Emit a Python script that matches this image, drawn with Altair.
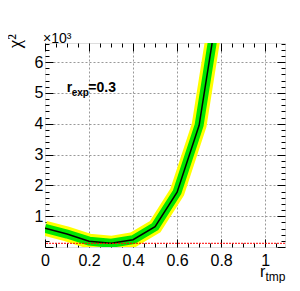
import altair as alt
import pandas as pd

# data
r_tmp = [0.0, 0.1, 0.2, 0.3, 0.4, 0.5, 0.6, 0.7, 0.8]
chi2 = [607, 420, 190, 120, 235, 660, 1780, 3950, 8475]
chi2_ref = [120]

y_ticks = list(range(0, 6601, 200))
x_ticks = [round(i * 0.05, 2) for i in range(0, 22)]

df = pd.DataFrame({"r": r_tmp, "chi2": chi2})
ref = pd.DataFrame({"v": chi2_ref})

FONT = "Liberation Sans"
X_DOM = [0, 1.09]
Y_DOM = [0, 6620]

x_major = "abs(datum.value*5 - round(datum.value*5)) < 1e-6"
y_major = "datum.value % 1000 === 0"

xs = alt.Scale(domain=X_DOM, nice=False, zero=False)
ys = alt.Scale(domain=Y_DOM, nice=False, zero=False)

x_bottom = alt.Axis(
    orient="bottom", values=x_ticks, title=None, domain=False,
    tickSize=alt.ExprRef(expr=f"{x_major} ? -8 : -4"), tickColor="black",
    labelExpr=f"{x_major} ? format(datum.value, '~g') : ''",
    labelPadding=13, labelFlush=False, labelFontSize=16, labelFont=FONT,
    labelColor="black", grid=True,
    gridOpacity=alt.ExprRef(expr=f"{x_major} && datum.value > 0 ? 1 : 0"),
    gridDash=[2, 2], gridColor="#999999", gridWidth=1,
)
x_top = alt.Axis(
    orient="top", values=x_ticks, title=None, domain=False, labels=False,
    tickSize=alt.ExprRef(expr=f"{x_major} ? -8 : -4"), tickColor="black",
    grid=False,
)
y_left = alt.Axis(
    orient="left", values=y_ticks, title=None, domain=False,
    tickSize=alt.ExprRef(expr=f"{y_major} ? -8 : -4"), tickColor="black",
    labelExpr=f"{y_major} && datum.value > 0 ? format(datum.value/1000, 'd') : ''",
    labelPadding=10, labelFontSize=16, labelFont=FONT, labelColor="black",
    labelBaseline="middle",
    grid=True,
    gridOpacity=alt.ExprRef(expr=f"{y_major} && datum.value > 0 ? 1 : 0"),
    gridDash=[2, 2], gridColor="#999999", gridWidth=1,
)
y_right = alt.Axis(
    orient="right", values=y_ticks, title=None, domain=False, labels=False,
    tickSize=alt.ExprRef(expr=f"{y_major} ? -8 : -4"), tickColor="black",
    grid=False,
)

base = alt.Chart(df)

yellow = base.mark_line(clip=True, color="#ffff00", strokeWidth=15).encode(
    x=alt.X("r:Q", scale=xs, axis=None),
    y=alt.Y("chi2:Q", scale=ys, axis=None),
)
green = base.mark_line(clip=True, color="#00e600", strokeWidth=9).encode(
    x=alt.X("r:Q", scale=xs, axis=x_top),
    y=alt.Y("chi2:Q", scale=ys, axis=None),
)
black = base.mark_line(clip=True, color="black", strokeWidth=1.5).encode(
    x=alt.X("r:Q", scale=xs, axis=x_bottom),
    y=alt.Y("chi2:Q", scale=ys, axis=y_left),
)
red = alt.Chart(ref).mark_rule(color="red", strokeDash=[2, 1], strokeWidth=1).encode(
    y=alt.Y("v:Q", scale=ys, axis=y_right),
)

one = pd.DataFrame({"a": [0]})


def txt(s, x, y, size, bold=False, angle=0, align="left", baseline="alphabetic", font=FONT):
    return alt.Chart(one).mark_text(
        text=s, font=font, fontSize=size, fontWeight="bold" if bold else "normal",
        angle=angle, align=align, baseline=baseline, color="black",
    ).encode(x=alt.value(x), y=alt.value(y))


labels = [
    txt("χ²", -30, -9, 19, angle=270, align="right", baseline="middle",
        font="Liberation Serif"),
    txt("×10³", -2, -0.5, 14),
    txt("r", 21.7, 49, 14, bold=True),
    txt("exp", 26.7, 53, 10, bold=True),
    txt("=0.3", 43.3, 49, 14, bold=True),
    txt("r", 215, 233.5, 16),
    txt("tmp", 220.5, 237.5, 12),
]

chart = alt.layer(yellow, green, black, red, *labels).resolve_axis(
    x="independent", y="independent"
).properties(
    width=240, height=204, autosize="none",
    padding={"left": 37, "top": 35, "right": 7, "bottom": 36},
).configure_view(stroke="black", strokeWidth=1).configure(background="white")

chart.save("out.html", embed_options={"renderer": "svg", "actions": False})
